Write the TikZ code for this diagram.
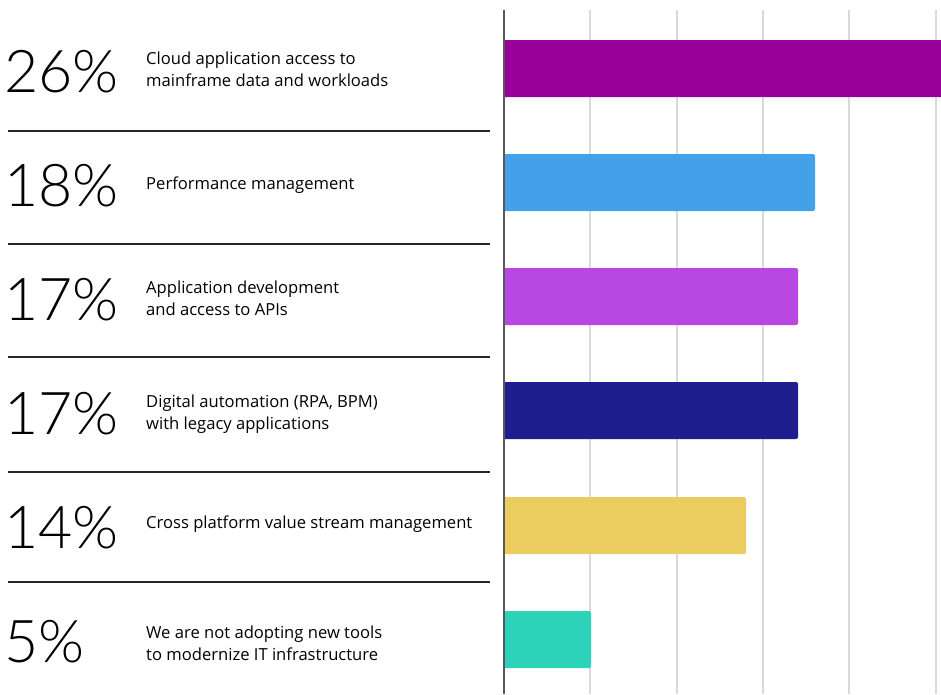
\documentclass[tikz,border=0pt]{standalone}
\usepackage{fontspec}
\setmainfont{Open Sans}
\newfontfamily\pctfont{Lato Light}
\usetikzlibrary{positioning}

\definecolor{cloudbar}{HTML}{990099}
\definecolor{perfbar}{HTML}{42A1E8}
\definecolor{appdevbar}{HTML}{B947E1}
\definecolor{autobar}{HTML}{1E1E8F}
\definecolor{crossbar}{HTML}{ECCC5E}
\definecolor{nonebar}{HTML}{2DD3B9}

\tikzset{
  pct/.style={anchor=base west,inner sep=0pt,font=\pctfont\fontsize{59}{59}\selectfont},
  lbl/.style={anchor=west,inner sep=0pt,align=left,font=\fontsize{16.6}{22}\selectfont},
  sepline/.style={line width=1.2pt,black!85},
  gridline/.style={line width=1.5pt,black!15},
  bar/.style={rounded corners=2pt}
}

\begin{document}
\begin{tikzpicture}[x=1pt,y=-1pt]
\useasboundingbox[fill=white] (0,0) rectangle (941,694);

% grid
\draw[gridline] (590,10) -- (590,694);
\draw[gridline] (677,10) -- (677,694);
\draw[gridline] (763,10) -- (763,694);
\draw[gridline] (849,10) -- (849,694);
\draw[gridline] (936,10) -- (936,694);

% bars
\fill[bar,cloudbar] (503,40) rectangle (945,97);
\fill[bar,perfbar] (503,154) rectangle (815,211);
\fill[bar,appdevbar] (503,268) rectangle (798,325);
\fill[bar,autobar] (503,382) rectangle (798,439);
\fill[bar,crossbar] (503,497) rectangle (746,554);
\fill[bar,nonebar] (503,611) rectangle (591,668);

% axis
\draw[line width=1.4pt,black!65] (504,10) -- (504,694);

% separators
\draw[sepline] (8,131) -- (490,131);
\draw[sepline] (8,244) -- (490,244);
\draw[sepline] (8,357) -- (490,357);
\draw[sepline] (8,472) -- (490,472);
\draw[sepline] (8,582) -- (490,582);

% percentages
\node[pct] (p1) at (4,92) {26\%};
\node[pct] (p2) at (4,206) {18\%};
\node[pct] (p3) at (4,320) {17\%};
\node[pct] (p4) at (4,434) {17\%};
\node[pct] (p5) at (4,548) {14\%};
\node[pct] (p6) at (4,662) {5\%};

% labels
\node[lbl] (l1) at (146,69) {Cloud application access to\\mainframe data and workloads};
\node[lbl] (l2) at (146,185) {Performance management};
\node[lbl] (l3) at (146,298) {Application development\\and access to APIs};
\node[lbl] (l4) at (146,414) {Digital automation (RPA, BPM)\\with legacy applications};
\node[lbl] (l5) at (146,524) {Cross platform value stream management};
\node[lbl] (l6) at (146,643) {We are not adopting new tools\\to modernize IT infrastructure};
\end{tikzpicture}
\end{document}
